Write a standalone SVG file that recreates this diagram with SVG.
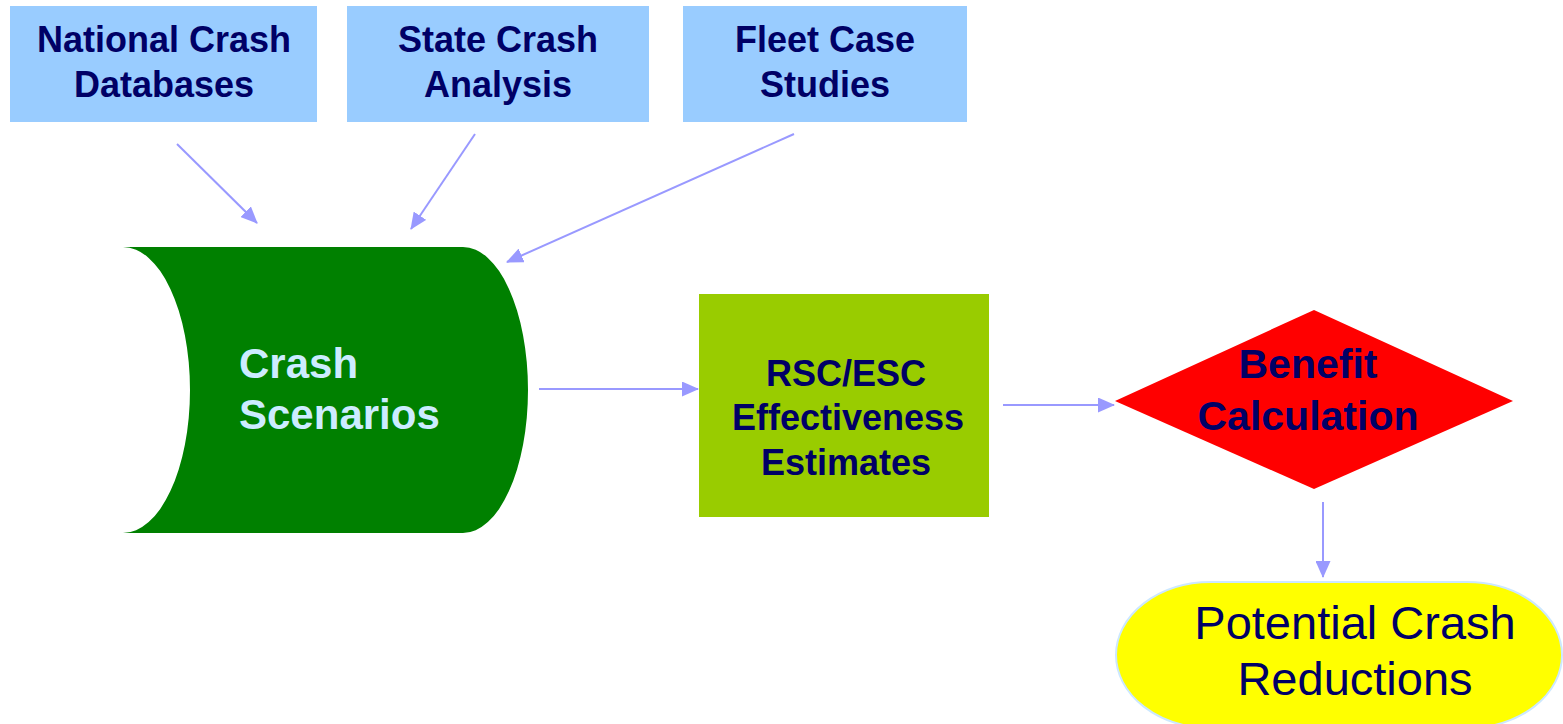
<svg xmlns="http://www.w3.org/2000/svg" width="1563" height="724" viewBox="0 0 1563 724">
<style>
.src{fill:#99ccff}
.t{font-family:"Liberation Sans",Arial,sans-serif;fill:#000066;text-anchor:middle}
.b{font-weight:bold}
.cs{font-family:"Liberation Sans",Arial,sans-serif;font-weight:bold;font-size:42px;fill:#ccecff}
.con{stroke:#9999ff;stroke-width:2;fill:none;marker-end:url(#ah)}
</style>
<defs>
<marker id="ah" markerUnits="userSpaceOnUse" markerWidth="17" markerHeight="15" refX="16" refY="7.5" orient="auto">
<path d="M0,0 L17,7.5 L0,15 Z" fill="#9999ff"/>
</marker>
</defs>
<rect width="1563" height="724" fill="#ffffff"/>
<g id="national">
<rect class="src" x="10" y="6" width="307" height="116"/>
<text class="t b" font-size="36" x="164" y="52">National Crash</text>
<text class="t b" font-size="36" x="164" y="97">Databases</text>
</g>
<g id="state">
<rect class="src" x="347" y="6" width="302" height="116"/>
<text class="t b" font-size="36" x="498" y="52">State Crash</text>
<text class="t b" font-size="36" x="498" y="97">Analysis</text>
</g>
<g id="fleet">
<rect class="src" x="683" y="6" width="284" height="116"/>
<text class="t b" font-size="36" x="825" y="52">Fleet Case</text>
<text class="t b" font-size="36" x="825" y="97">Studies</text>
</g>
<g id="scenarios">
<path d="M123,247 L463,247 A65,143 0 0 1 463,533 L123,533 A67,143 0 0 0 123,247 Z" fill="#008000"/>
<text class="cs" x="239" y="378">Crash</text>
<text class="cs" x="239" y="429">Scenarios</text>
</g>
<g id="effectiveness">
<rect x="699" y="294" width="290" height="223" fill="#99cc00"/>
<text class="t b" font-size="36" x="846" y="386">RSC/ESC</text>
<text class="t b" font-size="36" x="848" y="430">Effectiveness</text>
<text class="t b" font-size="36" x="846" y="475">Estimates</text>
</g>
<g id="benefit">
<polygon points="1115,401 1314,310 1513,401 1314,489" fill="#ff0000"/>
<text class="t b" font-size="41" x="1308" y="378">Benefit</text>
<text class="t b" font-size="41" x="1308" y="430">Calculation</text>
</g>
<g id="reductions">
<rect x="1116" y="582" width="446" height="146" rx="95" ry="73" fill="#ffff00" stroke="#cce8ff" stroke-width="2"/>
<text class="t" font-size="47" x="1355" y="639">Potential Crash</text>
<text class="t" font-size="47" x="1355" y="695">Reductions</text>
</g>
<g id="connectors">
<line class="con" x1="177" y1="144" x2="257" y2="223"/>
<line class="con" x1="475" y1="134" x2="411" y2="229"/>
<line class="con" x1="794" y1="134" x2="507" y2="262"/>
<line class="con" x1="539" y1="389" x2="698" y2="389"/>
<line class="con" x1="1003" y1="405" x2="1114" y2="405"/>
<line class="con" x1="1323" y1="502" x2="1323" y2="577"/>
</g>
</svg>
